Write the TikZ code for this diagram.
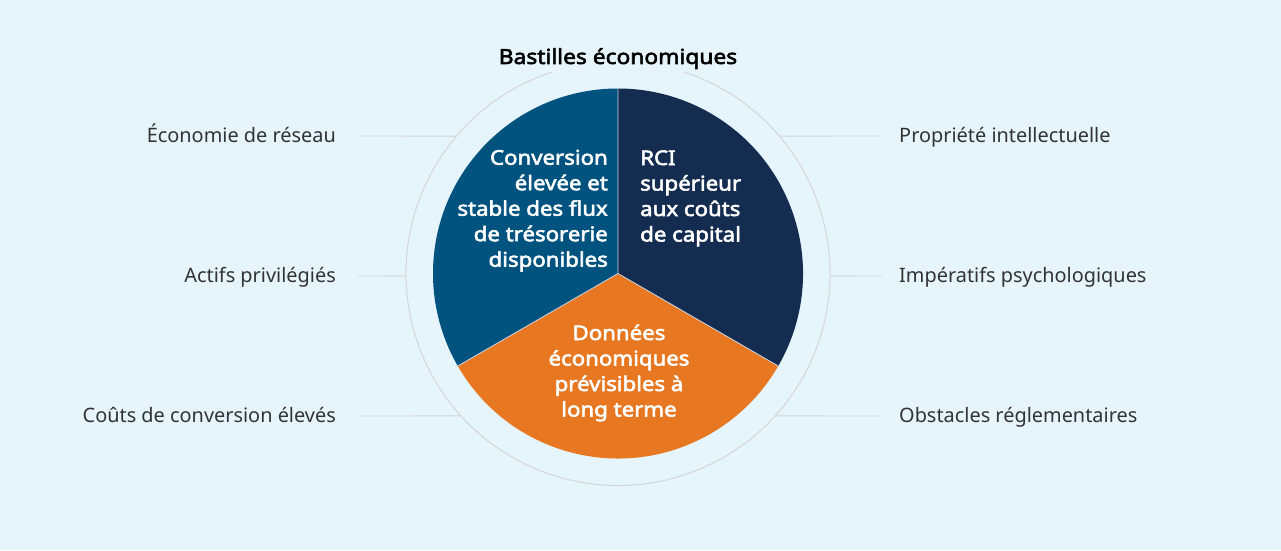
\documentclass[tikz,border=0pt]{standalone}
\usepackage{fontspec}
\setmainfont{Noto Sans}[BoldFont={Noto Sans}, BoldFeatures={FakeBold=2.7, FakeStretch=1.1}]
\usetikzlibrary{calc}
\definecolor{bgc}{HTML}{E6F5FC}
\definecolor{secA}{HTML}{00527F}
\definecolor{secB}{HTML}{152C51}
\definecolor{secC}{HTML}{E87722}
\definecolor{ringc}{HTML}{D2D6DA}
\definecolor{labc}{HTML}{333333}
\definecolor{divc}{HTML}{C8D6E4}
\tikzset{
  x=1pt, y=1pt,
  sectext/.style={text=white, font=\fontsize{20.2}{25.5}\selectfont\bfseries, inner sep=0pt},
  lab/.style={text=labc, font=\fontsize{19.9}{23}\selectfont, inner sep=0pt},
  leader/.style={draw=ringc, line width=0.9pt},
}
\begin{document}
\begin{tikzpicture}
\fill[bgc] (0,0) rectangle (1281,550);
\useasboundingbox (0,0) rectangle (1281,550);
\coordinate (c) at (618,276.5);
% outer ring with gap for the title
\draw[ringc, line width=1pt] ($(c)+(108.3:212)$) arc[start angle=108.3, end angle=431.7, radius=212];
% sectors
\fill[secA] (c) -- ++(90:185) arc[start angle=90, end angle=210, radius=185] -- cycle;
\fill[secB] (c) -- ++(-30:185) arc[start angle=-30, end angle=90, radius=185] -- cycle;
\fill[secC] (c) -- ++(210:185) arc[start angle=210, end angle=330, radius=185] -- cycle;
\draw[divc, line width=0.8pt] (c) -- ++(90:185) (c) -- ++(210:185) (c) -- ++(330:185);
% title
\node[font=\fontsize{20.7}{24}\selectfont\bfseries, inner sep=0pt, anchor=base] (title) at (618,486) {Bastilles économiques};
% sector texts
\node[sectext, align=right, anchor=base east] (ta) at (608,283.3) {Conversion\\élevée et\\stable des flux\\de trésorerie\\disponibles};
\node[sectext, align=left, anchor=base west] (tb) at (640,308.5) {RCI\\supérieur\\aux coûts\\de capital};
\node[sectext, align=center, anchor=base] (tc) at (619,133.5) {Données\\économiques\\prévisibles à\\long terme};
% ring points
\coordinate (o1) at ($(c)+(139.6:212)$);
\coordinate (o2) at ($(c)+(180.7:212)$);
\coordinate (o3) at ($(c)+(222.2:212)$);
\coordinate (o4) at ($(c)+(40.4:212)$);
\coordinate (o5) at ($(c)+(-0.7:212)$);
\coordinate (o6) at ($(c)+(-42.2:212)$);
% labels
\node[lab, anchor=base east] (l1) at (336,407.5) {Économie de réseau};
\node[lab, anchor=base east] (l2) at (336,267.5) {Actifs privilégiés};
\node[lab, anchor=base east] (l3) at (336,127.5) {Coûts de conversion élevés};
\node[lab, anchor=base west] (r1) at (899,407.5) {Propriété intellectuelle};
\node[lab, anchor=base west] (r2) at (899,267.5) {Impératifs psychologiques};
\node[lab, anchor=base west] (r3) at (899,127.5) {Obstacles réglementaires};
% leaders
\draw[leader] (358,414) coordinate (a1) -- (o1);
\draw[leader] (358,274) coordinate (a2) -- (o2);
\draw[leader] (358,134) coordinate (a3) -- (o3);
\draw[leader] (882,414) coordinate (b1) -- (o4);
\draw[leader] (882,274) coordinate (b2) -- (o5);
\draw[leader] (882,134) coordinate (b3) -- (o6);
\end{tikzpicture}
\end{document}
